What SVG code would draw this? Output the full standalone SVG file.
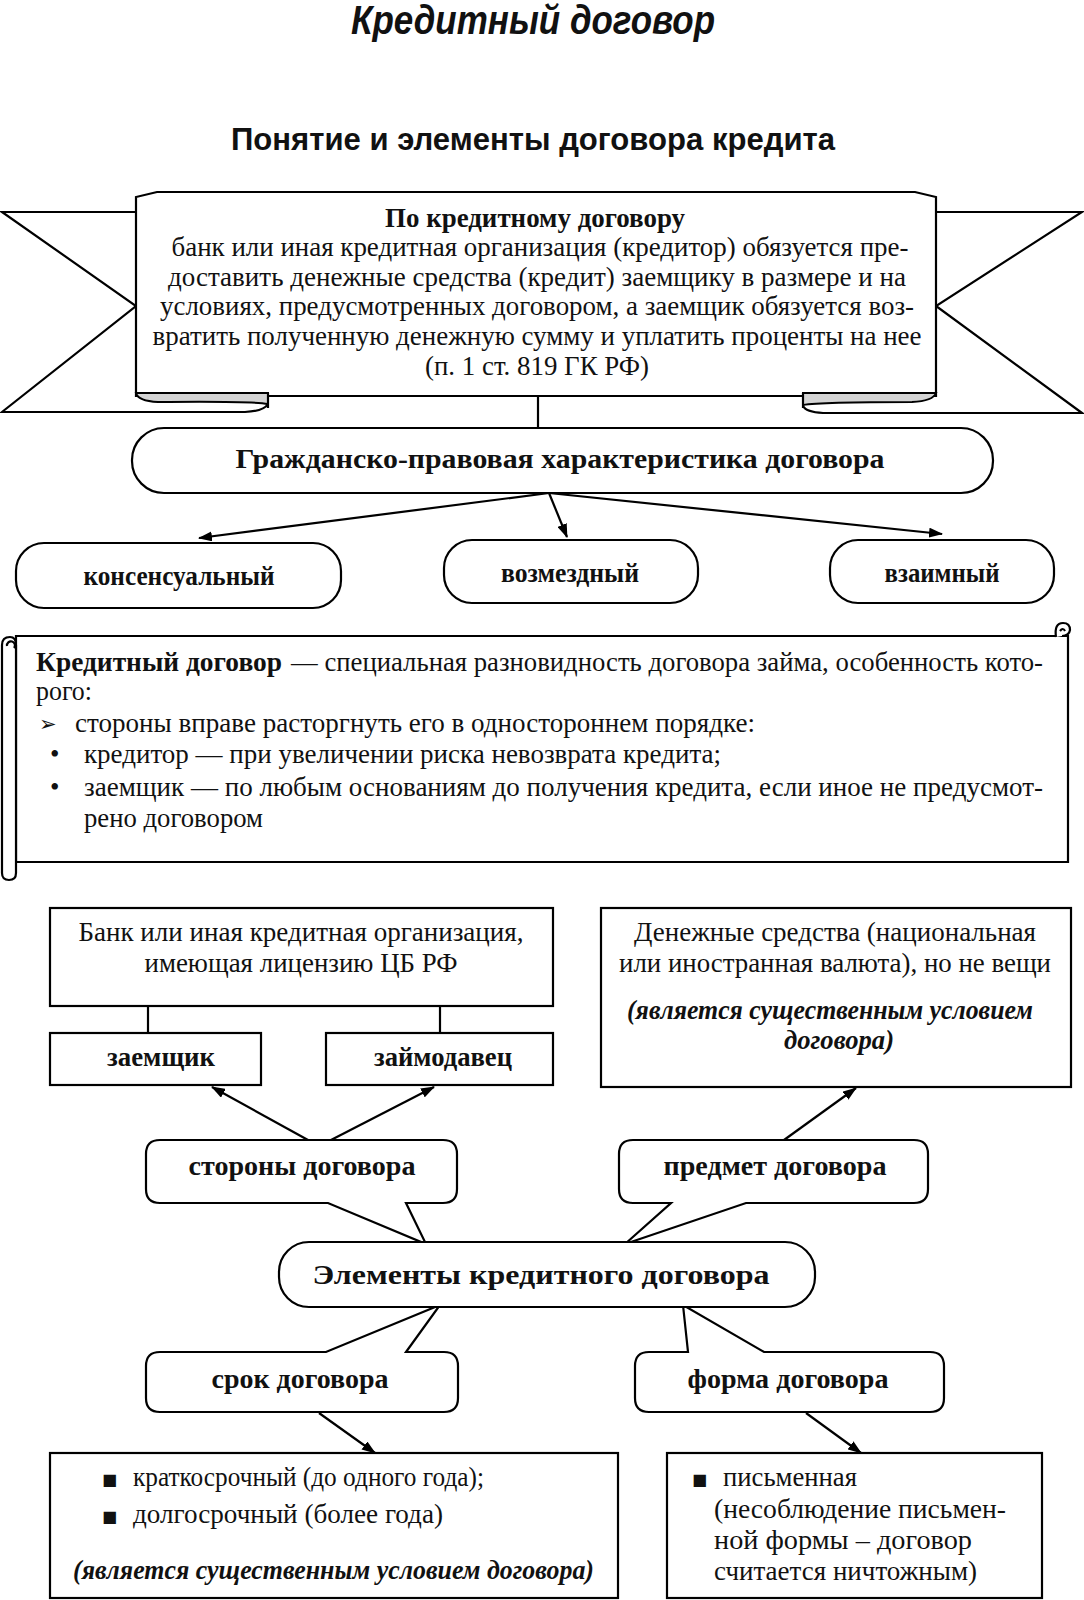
<svg xmlns="http://www.w3.org/2000/svg" width="1084" height="1600" viewBox="0 0 1084 1600">
<style>
.s{fill:#fff;stroke:#000;stroke-width:2.2}
.ln{fill:none;stroke:#000;stroke-width:2.2}
.t{font-family:"Liberation Serif","DejaVu Serif",serif;font-size:27px;fill:#111}
.b{font-weight:bold}
.i{font-style:italic}
.h{font-family:"Liberation Sans","DejaVu Sans",sans-serif;font-weight:bold;fill:#111}
.sym{font-family:"DejaVu Sans",sans-serif;fill:#111}
.cu{fill:#d4d4d4;stroke:#000;stroke-width:2}
</style>
<defs>
<marker id="ah" viewBox="0 0 14 10" refX="13" refY="5" markerWidth="14" markerHeight="10" orient="auto" markerUnits="userSpaceOnUse"><path d="M0,0 L14,5 L0,10 Z" fill="#000"/></marker>
</defs>
<rect width="1084" height="1600" fill="#fff"/>

<g id="title">
<text class="h i" x="533" y="34" font-size="40" text-anchor="middle" textLength="364" lengthAdjust="spacingAndGlyphs">Кредитный договор</text>
<text class="h" x="533" y="150" font-size="32" text-anchor="middle" textLength="604" lengthAdjust="spacingAndGlyphs">Понятие и элементы договора кредита</text>
</g>

<g id="banner">
<path class="ln" d="M136,212 L2,212 L136,306 L2,412 L245,412 Q264,411 268,404"/>
<path class="ln" d="M936,212 L1082,212 L936,306 L1082,413 L823,413 Q806,412 803,406"/>
<path class="s" d="M136,396 L136,197 L157,192 L915,192 L936,197 L936,396 Z"/>
<path class="cu" d="M136,393 L268,393 L268,404 Q250,401 158,402 Q138,401 136,393 Z"/>
<path class="cu" d="M936,393 L803,393 L803,405 Q820,402 912,402 Q933,401 936,393 Z"/>
<line class="ln" x1="268" y1="393" x2="268" y2="408"/>
<line class="ln" x1="803" y1="393" x2="803" y2="408"/>
<text class="t b" x="535" y="227" font-size="26" text-anchor="middle" textLength="300" lengthAdjust="spacingAndGlyphs">По кредитному договору</text>
<text class="t" x="540" y="256" text-anchor="middle" textLength="737" lengthAdjust="spacingAndGlyphs">банк или иная кредитная организация (кредитор) обязуется пре-</text>
<text class="t" x="537" y="286" text-anchor="middle" textLength="738" lengthAdjust="spacingAndGlyphs">доставить денежные средства (кредит) заемщику в размере и на</text>
<text class="t" x="537" y="315" text-anchor="middle" textLength="754" lengthAdjust="spacingAndGlyphs">условиях, предусмотренных договором, а заемщик обязуется воз-</text>
<text class="t" x="537" y="345" text-anchor="middle" textLength="769" lengthAdjust="spacingAndGlyphs">вратить полученную денежную сумму и уплатить проценты на нее</text>
<text class="t" x="537" y="375" text-anchor="middle" textLength="224" lengthAdjust="spacingAndGlyphs">(п. 1 ст. 819 ГК РФ)</text>
</g>

<g id="connectors">
<line class="ln" x1="538" y1="396" x2="538" y2="428"/>
<line class="ln" x1="549" y1="493" x2="199" y2="538" marker-end="url(#ah)"/>
<line class="ln" x1="549" y1="493" x2="567" y2="537" marker-end="url(#ah)"/>
<line class="ln" x1="549" y1="493" x2="942" y2="534" marker-end="url(#ah)"/>
<line class="ln" x1="148" y1="1006" x2="148" y2="1033"/>
<line class="ln" x1="440" y1="1006" x2="440" y2="1033"/>
<line class="ln" x1="308" y1="1140" x2="212" y2="1087" marker-end="url(#ah)"/>
<line class="ln" x1="331" y1="1140" x2="434" y2="1087" marker-end="url(#ah)"/>
<line class="ln" x1="784" y1="1140" x2="856" y2="1088" marker-end="url(#ah)"/>
<line class="ln" x1="319" y1="1413" x2="375" y2="1453" marker-end="url(#ah)"/>
<line class="ln" x1="806" y1="1413" x2="861" y2="1453" marker-end="url(#ah)"/>
</g>

<g id="civil">
<rect class="s" x="132" y="428" width="861" height="65" rx="32"/>
<text class="t b" x="560" y="468" font-size="29" text-anchor="middle" textLength="649" lengthAdjust="spacingAndGlyphs">Гражданско-правовая характеристика договора</text>
</g>
<g id="consensual">
<rect class="s" x="16" y="543" width="325" height="65" rx="28"/>
<text class="t b" x="179" y="585" text-anchor="middle" textLength="191" lengthAdjust="spacingAndGlyphs">консенсуальный</text>
</g>
<g id="paid">
<rect class="s" x="444" y="540" width="254" height="63" rx="28"/>
<text class="t b" x="570" y="582" text-anchor="middle" textLength="138" lengthAdjust="spacingAndGlyphs">возмездный</text>
</g>
<g id="mutual">
<rect class="s" x="830" y="540" width="224" height="63" rx="28"/>
<text class="t b" x="942" y="582" text-anchor="middle" textLength="115" lengthAdjust="spacingAndGlyphs">взаимный</text>
</g>

<g id="definition">
<path class="s" d="M16,636 L1068,636 L1068,862 L16,862 Z"/>
<path class="s" d="M1056,637 Q1054,623 1063,623 Q1070,623 1070,630 Q1069,636 1062,636 M1060,631 Q1063,627 1065,631"/>
<path class="s" d="M2,645 Q2,637 10,637 Q16,637 16,645 L16,873 Q16,880 9,880 Q2,880 2,873 Z"/>
<path class="ln" d="M7,646 A4,4 0 1 1 14,648"/>
<text class="t b" x="36" y="671" textLength="246" lengthAdjust="spacingAndGlyphs">Кредитный  договор</text>
<text class="t" x="291" y="671" textLength="752" lengthAdjust="spacingAndGlyphs">— специальная разновидность договора займа, особенность кото-</text>
<text class="t" x="36" y="700" textLength="56" lengthAdjust="spacingAndGlyphs">рого:</text>
<text class="sym" x="39" y="731" font-size="21">➢</text>
<text class="t" x="75" y="732" textLength="680" lengthAdjust="spacingAndGlyphs">стороны вправе расторгнуть его в одностороннем порядке:</text>
<text class="t" x="50" y="763">•</text>
<text class="t" x="84" y="763" textLength="637" lengthAdjust="spacingAndGlyphs">кредитор —  при увеличении риска невозврата кредита;</text>
<text class="t" x="50" y="796">•</text>
<text class="t" x="84" y="796" textLength="959" lengthAdjust="spacingAndGlyphs">заемщик —  по любым основаниям до получения кредита, если иное не предусмот-</text>
<text class="t" x="84" y="827" textLength="179" lengthAdjust="spacingAndGlyphs">рено договором</text>
</g>

<g id="bank">
<rect class="s" x="50" y="908" width="503" height="98"/>
<text class="t" x="301" y="941" text-anchor="middle" textLength="445" lengthAdjust="spacingAndGlyphs">Банк или иная кредитная организация,</text>
<text class="t" x="301" y="972" text-anchor="middle" textLength="313" lengthAdjust="spacingAndGlyphs">имеющая лицензию ЦБ РФ</text>
</g>
<g id="borrower">
<rect class="s" x="50" y="1033" width="211" height="52"/>
<text class="t b" x="161" y="1066" text-anchor="middle" textLength="108" lengthAdjust="spacingAndGlyphs">заемщик</text>
</g>
<g id="lender">
<rect class="s" x="326" y="1033" width="227" height="52"/>
<text class="t b" x="443" y="1066" text-anchor="middle" textLength="138" lengthAdjust="spacingAndGlyphs">займодавец</text>
</g>
<g id="money">
<rect class="s" x="601" y="908" width="470" height="179"/>
<text class="t" x="835" y="941" text-anchor="middle" textLength="402" lengthAdjust="spacingAndGlyphs">Денежные средства (национальная</text>
<text class="t" x="835" y="972" text-anchor="middle" textLength="432" lengthAdjust="spacingAndGlyphs">или иностранная валюта), но не вещи</text>
<text class="t i b" x="830" y="1019" text-anchor="middle" textLength="406" lengthAdjust="spacingAndGlyphs">(является существенным условием</text>
<text class="t i b" x="839" y="1049" text-anchor="middle" textLength="110" lengthAdjust="spacingAndGlyphs">договора)</text>
</g>

<g id="parties">
<path class="s" d="M160,1140 L443,1140 Q457,1140 457,1154 L457,1189 Q457,1203 443,1203 L406,1203 L426,1244 L328,1203 L160,1203 Q146,1203 146,1189 L146,1154 Q146,1140 160,1140 Z"/>
<text class="t b" x="302" y="1175" text-anchor="middle" textLength="227" lengthAdjust="spacingAndGlyphs">стороны  договора</text>
</g>
<g id="subject">
<path class="s" d="M633,1140 L914,1140 Q928,1140 928,1154 L928,1189 Q928,1203 914,1203 L746,1203 L625,1244 L671,1203 L633,1203 Q619,1203 619,1189 L619,1154 Q619,1140 633,1140 Z"/>
<text class="t b" x="775" y="1175" text-anchor="middle" textLength="223" lengthAdjust="spacingAndGlyphs">предмет  договора</text>
</g>
<g id="term">
<path class="s" d="M160,1352 L326,1352 L440,1305 L406,1352 L444,1352 Q458,1352 458,1366 L458,1398 Q458,1412 444,1412 L160,1412 Q146,1412 146,1398 L146,1366 Q146,1352 160,1352 Z"/>
<text class="t b" x="300" y="1388" text-anchor="middle" textLength="177" lengthAdjust="spacingAndGlyphs">срок договора</text>
</g>
<g id="form">
<path class="s" d="M649,1352 L688,1352 L683,1305 L764,1352 L930,1352 Q944,1352 944,1366 L944,1398 Q944,1412 930,1412 L649,1412 Q635,1412 635,1398 L635,1366 Q635,1352 649,1352 Z"/>
<text class="t b" x="788" y="1388" text-anchor="middle" textLength="201" lengthAdjust="spacingAndGlyphs">форма  договора</text>
</g>
<g id="elements">
<rect class="s" x="279" y="1242" width="536" height="65" rx="30"/>
<text class="t b" x="541" y="1284" font-size="29" text-anchor="middle" textLength="457" lengthAdjust="spacingAndGlyphs">Элементы  кредитного  договора</text>
</g>

<g id="term-kinds">
<rect class="s" x="50" y="1453" width="568" height="145"/>
<text class="sym" x="102" y="1485" font-size="16">■</text>
<text class="t" x="133" y="1486" textLength="351" lengthAdjust="spacingAndGlyphs">краткосрочный (до одного года);</text>
<text class="sym" x="102" y="1522" font-size="16">■</text>
<text class="t" x="133" y="1523" textLength="310" lengthAdjust="spacingAndGlyphs">долгосрочный (более года)</text>
<text class="t i b" x="73" y="1579" textLength="521" lengthAdjust="spacingAndGlyphs">(является существенным условием договора)</text>
</g>
<g id="form-kinds">
<rect class="s" x="667" y="1453" width="375" height="145"/>
<text class="sym" x="692" y="1485" font-size="16">■</text>
<text class="t" x="723" y="1486" textLength="134" lengthAdjust="spacingAndGlyphs">письменная</text>
<text class="t" x="714" y="1518" textLength="292" lengthAdjust="spacingAndGlyphs">(несоблюдение письмен-</text>
<text class="t" x="714" y="1549" textLength="258" lengthAdjust="spacingAndGlyphs">ной  формы – договор</text>
<text class="t" x="714" y="1580" textLength="263" lengthAdjust="spacingAndGlyphs">считается ничтожным)</text>
</g>
</svg>
